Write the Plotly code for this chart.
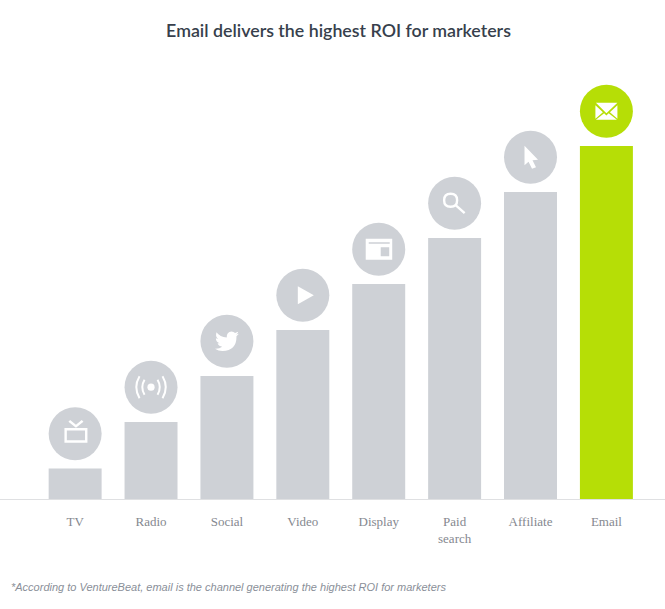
import re
import plotly.graph_objects as go

channels = ["TV", "Radio", "Social", "Video", "Display", "Paid search", "Affiliate", "Email"]
tick_labels = ["TV", "Radio", "Social", "Video", "Display", "Paid<br>search", "Affiliate", "Email"]
roi_values = [30.5, 77, 123, 169, 215, 261, 307, 353]
highlight = "Email"

GREY = "#ced1d6"
GREEN = "#b6de06"
CENTER_ABOVE_BAR = 34.8
RADIUS = 26.5


def to_anchor(path):
    """Icon drawn y-down around the badge centre -> pixels above the bar top."""
    nums = iter(range(10 ** 6))

    def repl(m):
        v = float(m.group(0))
        if next(nums) % 2 == 0:
            return f"{v:.2f}"
        return f"{CENTER_ABOVE_BAR - v:.2f}"

    return re.sub(r"-?\d+\.?\d*", repl, path)


def rect(x0, y0, x1, y1):
    return f"M{x0} {y0} L{x1} {y0} L{x1} {y1} L{x0} {y1} Z "


BIRD = ("M11.95 -7.43 L9.13 -6.65 Q11.2 -7.9 11.29 -9.38 L8.16 -8.19 Q6.7 -9.75 4.57 -9.75 "
        "Q-0.35 -9.5 -0.22 -3.71 Q-7 -3.8 -10.36 -8.84 Q-12 -4.6 -8.84 -2.27 L-11.07 -2.88 "
        "Q-11 1.1 -7.12 2 L-9.33 2.09 Q-8 5.2 -4.73 5.51 Q-7.9 7.9 -12 7.54 "
        "Q-8.4 9.75 -4.44 9.75 Q9.6 9.2 9.55 -4.23 L9.54 -5.07 Z")

ICONS = {
    "TV": dict(
        fill=rect(-10.7, -5.7, 12.3, 9) + rect(-8.3, -3.2, 9.9, 6.6) +
             "M0.8 -6 L-6.7 -12 L-5 -13.6 L0.8 -9 L6.6 -13.6 L8.3 -12 Z"),
    "Radio": dict(
        fill="M0 -3.6 Q3.6 -3.6 3.6 0 Q3.6 3.6 0 3.6 Q-3.6 3.6 -3.6 0 Q-3.6 -3.6 0 -3.6 Z",
        stroke="M-6.5 -7.5 Q-11 0 -6.5 7.5 M6.5 -7.5 Q11 0 6.5 7.5 "
               "M-11.5 -11 Q-18 0 -11.5 11 M11.5 -11 Q18 0 11.5 11"),
    "Social": dict(fill=BIRD),
    "Video": dict(fill="M-5 -9 L11 0 L-5 9 Z"),
    "Display": dict(
        fill=rect(-13, -10.5, 13.5, 10.5) + rect(-10, -7, 11, -5.5) + rect(2, -2, 10.5, 7)),
    "Paid search": dict(
        stroke="M-4 -9.5 Q2.5 -9.5 2.5 -3 Q2.5 3.5 -4 3.5 Q-10.5 3.5 -10.5 -3 Q-10.5 -9.5 -4 -9.5 Z "
               "M1 2 L10 10",
        width=2.4),
    "Affiliate": dict(
        fill="M-6 -11.5 L-6 8 L-2 4.5 L1.5 11.5 L5.5 10 L2 3 L7.5 2.5 Z"),
    "Email": dict(
        fill="M-10.5 -8.5 L11 -8.5 L0 2 Z "
             "M-11 -6 L-3.5 1 L-11 7.5 Z M11 -6 L3.5 1 L11 7.5 Z "
             "M-10.5 8.5 L-2.3 2 L0 4.3 L2.3 2 L10.5 8.5 Z"),
}

fig = go.Figure()
colors = [GREEN if c == highlight else GREY for c in channels]
fig.add_trace(go.Bar(x=channels, y=roi_values, width=0.698,
                     marker=dict(color=colors, line=dict(width=0)), showlegend=False,
                     hoverinfo="x"))

for ch, val, col in zip(channels, roi_values, colors):
    fig.add_shape(type="circle", xref="x", yref="y", xsizemode="pixel", ysizemode="pixel",
                  xanchor=ch, yanchor=val,
                  x0=-RADIUS, x1=RADIUS,
                  y0=CENTER_ABOVE_BAR - RADIUS, y1=CENTER_ABOVE_BAR + RADIUS,
                  fillcolor=col, line=dict(width=0), layer="above")
    icon = ICONS[ch]
    if "fill" in icon:
        fig.add_shape(type="path", xref="x", yref="y", xsizemode="pixel", ysizemode="pixel",
                      xanchor=ch, yanchor=val, path=to_anchor(icon["fill"]),
                      fillcolor="white", line=dict(width=0), layer="above")
    if "stroke" in icon:
        fig.add_shape(type="path", xref="x", yref="y", xsizemode="pixel", ysizemode="pixel",
                      xanchor=ch, yanchor=val, path=to_anchor(icon["stroke"]),
                      fillcolor="rgba(0,0,0,0)",
                      line=dict(color="white", width=icon.get("width", 2)), layer="above")

fig.update_layout(
    width=665, height=609, autosize=False,
    margin=dict(l=0, r=0, t=40, b=110),
    paper_bgcolor="white", plot_bgcolor="white",
    title=dict(text="Email delivers the highest ROI for marketers",
               font=dict(family="Lato", size=17.8, color="#373f4c", weight=600),
               x=338.5 / 665, xanchor="center", xref="paper",
               y=1 - 31 / 609, yanchor="middle", yref="container"),
    xaxis=dict(type="category", categoryorder="array", categoryarray=channels,
               tickmode="array", tickvals=channels, ticktext=tick_labels,
               range=[-0.99, 7.772], fixedrange=True,
               showline=True, linecolor="#dfe0e2", linewidth=1, showgrid=False,
               ticks="", ticklabelstandoff=10,
               tickfont=dict(family="Liberation Serif", size=13, color="#85888f")),
    yaxis=dict(range=[0, 459], visible=False, showgrid=False, zeroline=False, fixedrange=True),
    annotations=[dict(text="*According to VentureBeat, email is the channel generating the highest ROI for marketers",
                      xref="paper", yref="paper", x=9 / 665, y=(609 - 110 - 587) / 459,
                      xanchor="left", yanchor="middle", showarrow=False,
                      font=dict(family="Liberation Sans", size=11, color="#8a8f99", style="italic"))],
)

fig.write_html("out.html", config=dict(displayModeBar=False),
               post_script="document.body.style.margin='0';document.body.style.overflow='hidden';")
